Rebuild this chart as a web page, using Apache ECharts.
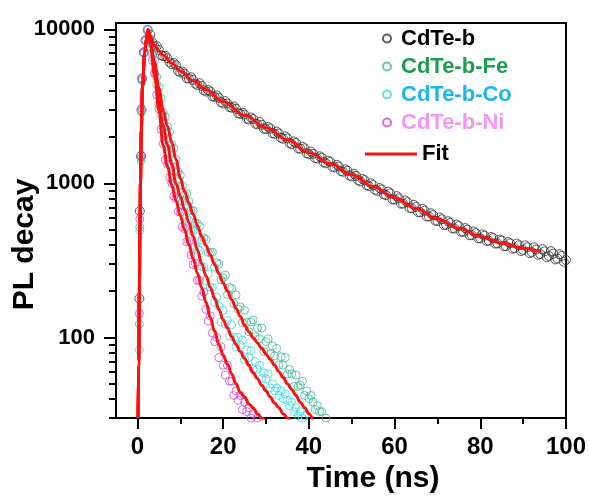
<!DOCTYPE html>
<html>
<head>
<meta charset="utf-8">
<title>PL decay</title>
<script src="https://cdn.jsdelivr.net/npm/echarts@6/dist/echarts.min.js"></script>
<style>
	html, body{
		margin: 0;
		padding: 0;
		background: #fff;
	}
	#main{
		width: 589px;
		height: 497px;
	}
</style>
</head>
<body>
<div id="main"></div>
<script type="text/javascript">
// axis ticks
var xMajor = [0, 20, 40, 60, 80, 100];
var xMinor = [10, 30, 50, 70, 90];
var yMajor = [100, 1000, 10000];
var yMinor = [30, 40, 50, 60, 70, 80, 90, 200, 300, 400, 500, 600, 700, 800, 900,
	2000, 3000, 4000, 5000, 6000, 7000, 8000, 9000];

// rising edge (ns) and counts
var tRise = [0.45, 0.55, 0.85, 0.95, 1.1, 1.5, 1.9, 2.4];
var riseB = [179, 662, 1500, 3000, 4800, 7100, 8500, 9900];
var riseFe = [122, 520, 1450, 2950, 4700, 7050, 8450, 9950];
var riseCo = [83, 494, 1400, 2900, 4600, 7000, 8400, 9900];
var riseNi = [143, 586, 1520, 3070, 4810, 7120, 8480, 10000];

// fast decays, time axis (ns)
var tFast = [3, 3.5, 4, 4.5, 5, 5.5, 6, 6.5, 7, 7.5,
	8, 8.5, 9, 9.5, 10, 10.5, 11, 11.5, 12, 12.5,
	13, 13.5, 14, 14.5, 15, 15.5, 16, 16.5, 17, 17.5,
	18, 18.5, 19, 19.5, 20, 20.5, 21, 21.5, 22, 22.5,
	23, 23.5, 24, 24.5, 25, 25.5, 26, 26.5, 27, 27.5,
	28, 28.5, 29, 29.5, 30, 30.5, 31, 31.5, 32, 32.5,
	33, 33.5, 34, 34.5, 35, 35.5, 36, 36.5, 37, 37.5,
	38, 38.5, 39, 39.5, 40, 40.5, 41, 41.5, 42, 42.5,
	43, 43.5, 44, 44.5, 45];
var cdteFe = [8700, 7130, 6300, 4900, 4200, 3570, 2910, 2710, 2330, 2150,
	1795, 1686, 1430, 1195, 1130, 967, 843, 856, 763, 665,
	668, 555, 547, 526, 429, 443, 433, 356, 357, 358,
	286, 306, 299, 237, 244, 254, 190, 211, 208, 166,
	189, 153, 158, 125, 150, 125, 109, 126, 130, 101,
	115, 98, 115, 81, 94, 98, 78, 88, 76, 85,
	66, 75, 66, 74, 58, 62, 58, 48, 57, 48,
	49, 52, 42, 45, 40, 42, 38, 34, 36, 33,
	33, 29, 30, 28, 25];
var cdteCo = [8330, 6950, 5280, 4400, 3280, 2790, 2300, 2120, 1745, 1575,
	1284, 1202, 980, 953, 783, 763, 720, 592, 574, 488,
	490, 390, 377, 367, 289, 286, 233, 259, 212, 211,
	169, 183, 160, 126, 150, 122, 129, 102, 121, 100,
	87, 100, 89, 96, 72, 83, 74, 82, 62, 70,
	62, 66, 54, 59, 54, 58, 47, 50, 45, 47,
	42, 45, 40, 43, 39, 36, 38, 33, 35, 31,
	33, 30, 31, 28, 29, 27, 28, 26, 25, 24,
	25, 23, 22, 22, 21];
var cdteNi = [8160, 6280, 5160, 3750, 3050, 2250, 1810, 1420, 1330, 1090,
	1007, 827, 802, 657, 650, 522, 508, 417, 422, 343,
	298, 303, 235, 235, 185, 197, 152, 128, 138, 107,
	94, 100, 74, 87, 66, 57, 66, 52, 52, 42,
	45, 39, 42, 34, 38, 33, 35, 30, 32, 29,
	30, 27, 28, 28, 27, 26, 26];

// slow decay (CdTe-b), whole and half nanoseconds
var tSlow = [3, 4, 5, 6, 7, 8, 9, 10, 11, 12,
	13, 14, 15, 16, 17, 18, 19, 20, 21, 22,
	23, 24, 25, 26, 27, 28, 29, 30, 31, 32,
	33, 34, 35, 36, 37, 38, 39, 40, 41, 42,
	43, 44, 45, 46, 47, 48, 49, 50, 51, 52,
	53, 54, 55, 56, 57, 58, 59, 60, 61, 62,
	63, 64, 65, 66, 67, 68, 69, 70, 71, 72,
	73, 74, 75, 76, 77, 78, 79, 80, 81, 82,
	83, 84, 85, 86, 87, 88, 89, 90, 91, 92,
	93, 94, 95, 96, 97, 98, 99, 100];
var cdteB = [9250, 7750, 7350, 6700, 6500, 5950, 5850, 5250, 5150, 4800,
	4700, 4350, 4300, 3950, 3950, 3650, 3600, 3300, 3300, 3100,
	3050, 2830, 2800, 2600, 2620, 2420, 2400, 2250, 2270, 2100,
	2110, 1950, 1960, 1800, 1830, 1680, 1690, 1550, 1560, 1450,
	1470, 1350, 1380, 1270, 1290, 1190, 1210, 1110, 1120, 1030,
	1050, 960, 975, 895, 915, 840, 860, 785, 800, 740,
	755, 690, 705, 650, 665, 610, 622, 570, 585, 538,
	555, 510, 528, 485, 500, 462, 476, 440, 458, 425,
	442, 408, 425, 392, 408, 380, 396, 370, 385, 358,
	372, 348, 362, 338, 350, 325, 338, 318];
var tSlowHalf = [3.5, 4.5, 5.5, 6.5, 7.5, 8.5, 9.5, 10.5, 11.5, 12.5,
	13.5, 14.5, 15.5, 16.5, 17.5, 18.5, 19.5, 20.5, 21.5, 22.5,
	23.5, 24.5, 25.5, 26.5, 27.5, 28.5, 29.5, 30.5, 31.5, 32.5,
	33.5, 34.5, 35.5, 36.5, 37.5, 38.5, 39.5, 40.5, 41.5, 42.5,
	43.5, 44.5, 45.5, 46.5, 47.5, 48.5, 49.5, 50.5, 51.5, 52.5,
	53.5, 54.5, 55.5, 56.5, 57.5, 58.5, 59.5, 60.5, 61.5, 62.5,
	63.5, 64.5, 65.5, 66.5, 67.5, 68.5, 69.5, 70.5, 71.5, 72.5,
	73.5, 74.5, 75.5, 76.5, 77.5, 78.5, 79.5, 80.5, 81.5, 82.5,
	83.5, 84.5, 85.5, 86.5, 87.5, 88.5, 89.5, 90.5, 91.5, 92.5,
	93.5, 94.5, 95.5, 96.5, 97.5, 98.5, 99.5];
var cdteBHalf = [8220, 7780, 6800, 6740, 6110, 6050, 5370, 5330, 4820, 4890,
	4440, 4470, 4020, 4040, 3670, 3730, 3370, 3430, 3130, 3160,
	2850, 2880, 2630, 2680, 2440, 2500, 2270, 2330, 2120, 2170,
	1975, 2020, 1830, 1870, 1690, 1730, 1570, 1610, 1460, 1500,
	1370, 1405, 1280, 1320, 1200, 1235, 1125, 1155, 1050, 1070,
	973, 1000, 908, 933, 850, 884, 789, 827, 739, 775,
	693, 727, 651, 683, 610, 640, 573, 601, 538, 568,
	511, 540, 486, 513, 461, 487, 440, 467, 423, 449,
	407, 432, 391, 416, 377, 407, 364, 396, 353, 385,
	344, 375, 332, 363, 321, 347, 310];

// fit curves
var fitRiseT = [0.15, 0.3, 0.45, 0.6, 0.7, 0.9, 1.17, 1.7, 2.1, 2.5];
var fitRiseV = [30, 70, 200, 550, 1000, 2200, 4200, 7000, 8700, 10000];
var fitFastT = [3, 4, 5, 6, 7, 8, 9, 10, 11, 12, 13, 14, 15, 16, 17, 18, 19, 20, 21, 22,
	23, 24, 25, 26, 27, 28, 29, 30, 31, 32, 33, 34, 35, 36, 37, 38, 39, 40, 41];
var fitFe = [8530, 6120, 4160, 3000, 2350, 1850, 1430, 1086, 887, 748, 630, 531, 452, 394, 343, 298, 260, 226, 200, 176,
	155, 137, 120, 109, 100, 92, 85, 78, 72, 66, 60, 55, 50, 46, 42, 38, 35, 32, 29];
var fitCo = [8250, 5440, 3350, 2370, 1780, 1337, 1000, 824, 679, 557, 454, 370, 301, 251, 212, 180, 152, 130, 115, 101,
	90, 81, 73, 66, 59, 54, 49, 45, 41, 37.5, 35, 32, 30, 28];
var fitNi = [8000, 5010, 2990, 1760, 1290, 978, 771, 619, 498, 402, 324, 261, 210, 169, 135, 110, 90, 77, 67, 58,
	50, 44, 41, 37, 35, 32, 30, 28];
var fitBT = [3, 4, 5, 6, 8, 10, 13, 16, 20, 25, 30, 35, 40, 45, 50, 55, 60, 65, 70, 75, 80, 85, 90, 94];
var fitBV = [9100, 7890, 7220, 6800, 6050, 5370, 4640, 4050, 3400, 2770, 2300, 1920, 1590, 1340, 1140, 953, 808, 688, 587, 512, 453, 411, 380, 359];

var font = 'Liberation Sans, Arial, sans-serif';

function pairs(ts, vs){
	var out = [];
	for(var i = 0; i < vs.length; i++){
		out.push([ts[i], vs[i]]);
	}
	return out;
}

function dots(name, color, size, data){
	return {
		name: name,
		type: 'scatter',
		xAxisIndex: 0,
		yAxisIndex: 0,
		symbol: 'circle',
		symbolSize: size,
		clip: true,
		itemStyle: {color: 'transparent', borderColor: color, borderWidth: 1},
		data: data
	};
}

function fit(ts, vs){
	return {
		name: 'Fit',
		type: 'line',
		xAxisIndex: 0,
		yAxisIndex: 0,
		showSymbol: false,
		symbol: 'none',
		smooth: 0.4,
		smoothMonotone: 'x',
		clip: true,
		z: 5,
		itemStyle: {color: '#ff1010'},
		lineStyle: {color: '#ff1010', width: 3},
		data: pairs(fitRiseT, fitRiseV).concat(pairs(ts, vs))
	};
}

// log labels without thousands separator
function plain(v){
	return String(Math.round(v));
}

var myChart = echarts.init(document.getElementById('main'), null, {renderer: 'canvas'});
var option = {
	animation: false,
	backgroundColor: '#fff',
	grid: [
		{left: 116, top: 23, right: 23, bottom: 79, show: true, borderColor: '#000', borderWidth: 2,
			outerBoundsMode: 'none', containLabel: false},
		{left: 116, top: 23, right: 23, bottom: 79, outerBoundsMode: 'none', containLabel: false}
	],
	legend: [
		{
			orient: 'vertical',
			left: 377,
			top: 22,
			itemWidth: 18,
			itemHeight: 8,
			itemGap: 5,
			textStyle: {fontSize: 22, fontWeight: 'bold', fontFamily: font, lineHeight: 23},
			data: [
				{name: 'CdTe-b', textStyle: {color: '#000'}},
				{name: 'CdTe-b-Fe', textStyle: {color: '#1c9e4e'}},
				{name: 'CdTe-b-Co', textStyle: {color: '#1cb6ee'}},
				{name: 'CdTe-b-Ni', textStyle: {color: '#f596f2'}}
			]
		},
		{
			left: 360,
			top: 138,
			itemWidth: 52,
			itemHeight: 3,
			icon: 'rect',
			textStyle: {fontSize: 22, fontWeight: 'bold', fontFamily: font, color: '#000'},
			data: ['Fit']
		}
	],
	xAxis: [
		{
			type: 'value', gridIndex: 0, min: -5, max: 100, position: 'bottom',
			name: 'Time (ns)', nameLocation: 'middle', nameGap: 44,
			nameTextStyle: {fontSize: 30, fontWeight: 'bold', color: '#000', fontFamily: font, padding: [0, 0, 0, 64]},
			axisLine: {show: true, onZero: false, lineStyle: {color: '#000', width: 2}},
			axisTick: {show: true, customValues: xMajor, length: 11, lineStyle: {color: '#000', width: 2}},
			axisLabel: {customValues: xMajor, margin: 17, fontSize: 24, fontWeight: 'bold', color: '#000', fontFamily: font},
			splitLine: {show: false}
		},
		{
			type: 'value', gridIndex: 1, min: -5, max: 100, position: 'bottom',
			axisLine: {show: false, onZero: false},
			axisTick: {show: true, customValues: xMinor, length: 6, lineStyle: {color: '#000', width: 2}},
			axisLabel: {show: false},
			splitLine: {show: false}
		}
	],
	yAxis: [
		{
			type: 'log', logBase: 10, gridIndex: 0, min: 30, max: 11000, position: 'left',
			name: 'PL decay', nameLocation: 'middle', nameGap: 76, nameMoveOverlap: false,
			nameTextStyle: {fontSize: 30, fontWeight: 'bold', color: '#000', fontFamily: font, padding: [0, 48, 0, 0]},
			axisLine: {show: true, onZero: false, lineStyle: {color: '#000', width: 2}},
			axisTick: {show: true, customValues: yMajor, length: 12, lineStyle: {color: '#000', width: 2}},
			axisLabel: {customValues: yMajor, formatter: plain, margin: 21, fontSize: 22, fontWeight: 'bold', color: '#000', fontFamily: font},
			splitLine: {show: false}
		},
		{
			type: 'log', logBase: 10, gridIndex: 1, min: 30, max: 11000, position: 'left',
			axisLine: {show: false, onZero: false},
			axisTick: {show: true, customValues: yMinor, length: 7, lineStyle: {color: '#000', width: 2}},
			axisLabel: {show: false},
			splitLine: {show: false}
		}
	],
	series: [
		dots('CdTe-b', '#333333', 9, pairs(tRise, riseB).concat(pairs(tSlow, cdteB), pairs(tSlowHalf, cdteBHalf))),
		dots('CdTe-b-Fe', '#3fb99a', 8, pairs(tRise, riseFe).concat(pairs(tFast, cdteFe))),
		dots('CdTe-b-Co', '#35dde6', 8, pairs(tRise, riseCo).concat(pairs(tFast, cdteCo))),
		dots('CdTe-b-Ni', '#d645dc', 8, pairs(tRise, riseNi).concat(pairs(tFast, cdteNi))),
		fit(fitBT, fitBV),
		fit(fitFastT, fitFe),
		fit(fitFastT, fitCo),
		fit(fitFastT, fitNi)
	]
};
myChart.setOption(option);
</script>
</body>
</html>
